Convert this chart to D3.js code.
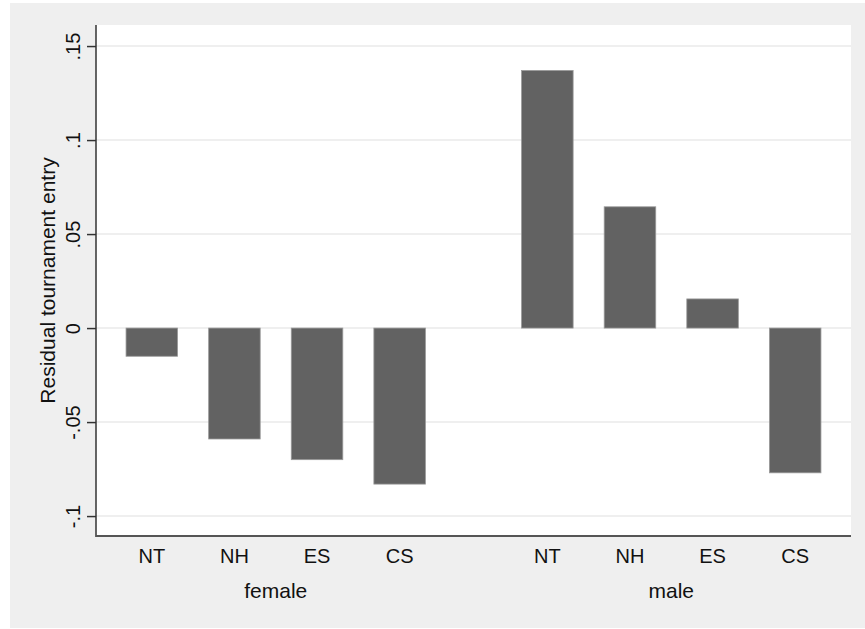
<!DOCTYPE html>
<html>
<head>
<meta charset="utf-8">
<script src="https://cdn.jsdelivr.net/npm/d3@7"></script>
<style>
  html, body { margin: 0; padding: 0; background: #ffffff; }
  svg { display: block; font-family: "Liberation Sans", Arial, Helvetica, sans-serif; }
</style>
</head>
<body>
<svg id="chart" width="865" height="629"></svg>
<script>
const groups = ["female", "male"];
const categories = ["NT", "NH", "ES", "CS"];
const femaleValues = [-0.015, -0.059, -0.070, -0.083];
const maleValues = [0.137, 0.0645, 0.0155, -0.077];
const yTicks = [-0.1, -0.05, 0, 0.05, 0.1, 0.15];
const yTickLabels = ["-.1", "-.05", "0", ".05", ".1", ".15"];
const yTitle = "Residual tournament entry";

const data = [];
groups.forEach((g, gi) => {
  const vals = gi === 0 ? femaleValues : maleValues;
  categories.forEach((c, ci) => data.push({ group: g, cat: c, value: vals[ci] }));
});

const W = 865, H = 629;
const plot = { left: 96, right: 851, top: 25, bottom: 536 };

const svg = d3.select("#chart");

// outer gray background
svg.append("rect").attr("x", 10).attr("y", 3).attr("width", W - 10).attr("height", 625)
  .attr("fill", "#efefef");
// plot region
svg.append("rect").attr("x", plot.left).attr("y", plot.top)
  .attr("width", plot.right - plot.left).attr("height", plot.bottom - plot.top)
  .attr("fill", "#ffffff");

const y = d3.scaleLinear().domain([-0.1106, 0.1612]).range([plot.bottom, plot.top]);

const x0 = d3.scaleBand().domain(groups).range([plot.left, plot.right])
  .paddingInner(0.1646).paddingOuter(0.0367);
const x1 = d3.scaleBand().domain(categories).range([0, x0.bandwidth()])
  .paddingInner(0.376).paddingOuter(0.188);

// gridlines
svg.append("g").selectAll("line").data(yTicks).join("line")
  .attr("x1", plot.left).attr("x2", plot.right)
  .attr("y1", d => y(d)).attr("y2", d => y(d))
  .attr("stroke", "#eaeaea").attr("stroke-width", 1.5);

// bars
svg.append("g").selectAll("rect").data(data).join("rect")
  .attr("x", d => x0(d.group) + x1(d.cat))
  .attr("width", x1.bandwidth())
  .attr("y", d => Math.min(y(0), y(d.value)))
  .attr("height", d => Math.abs(y(d.value) - y(0)))
  .attr("fill", "#626262")
  .attr("stroke", "#9a9a9a").attr("stroke-width", 0.8);

// y axis
const yAxis = d3.axisLeft(y).tickValues(yTicks)
  .tickFormat((d, i) => yTickLabels[i]).tickSize(9).tickPadding(0);
const gy = svg.append("g").attr("transform", `translate(${plot.left},0)`).call(yAxis);
gy.select(".domain").remove();
gy.selectAll(".tick line").attr("stroke", "#333").attr("stroke-width", 1.5);
gy.selectAll(".tick text")
  .attr("x", 0).attr("y", 0).attr("dy", 0)
  .attr("transform", "translate(-16,0) rotate(-90)")
  .attr("text-anchor", "middle")
  .attr("font-size", 20).attr("fill", "#111");
svg.append("line").attr("x1", plot.left).attr("x2", plot.left)
  .attr("y1", plot.top).attr("y2", plot.bottom + 1)
  .attr("stroke", "#333").attr("stroke-width", 1.5);

// x axis line
svg.append("line").attr("x1", plot.left).attr("x2", plot.right)
  .attr("y1", plot.bottom).attr("y2", plot.bottom)
  .attr("stroke", "#555").attr("stroke-width", 2);

// x category labels
svg.append("g").selectAll("text").data(data).join("text")
  .attr("x", d => x0(d.group) + x1(d.cat) + x1.bandwidth() / 2)
  .attr("y", 563)
  .attr("text-anchor", "middle").attr("font-size", 20).attr("fill", "#111")
  .text(d => d.cat);

// group labels
svg.append("g").selectAll("text").data(groups).join("text")
  .attr("x", d => x0(d) + x0.bandwidth() / 2)
  .attr("y", 598)
  .attr("text-anchor", "middle").attr("font-size", 21).attr("fill", "#111")
  .text(d => d);

// y title
svg.append("text")
  .attr("transform", `translate(55,${(plot.top + plot.bottom) / 2}) rotate(-90)`)
  .attr("text-anchor", "middle").attr("font-size", 21).attr("fill", "#111")
  .text(yTitle);
</script>
</body>
</html>
